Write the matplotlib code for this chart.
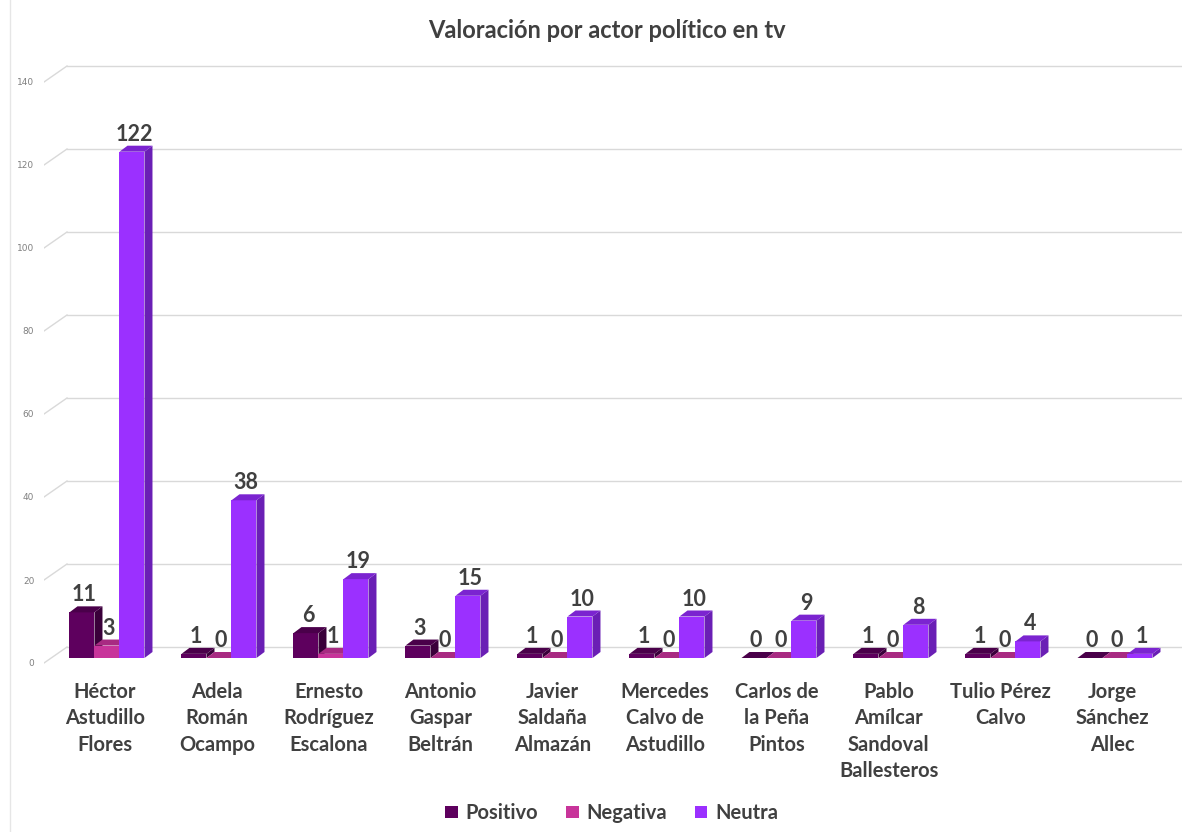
import matplotlib.pyplot as plt
from matplotlib.patches import Polygon, Rectangle, Patch
from matplotlib.lines import Line2D

# Datos
actores = ["Héctor\nAstudillo\nFlores", "Adela\nRomán\nOcampo", "Ernesto\nRodríguez\nEscalona",
           "Antonio\nGaspar\nBeltrán", "Javier\nSaldaña\nAlmazán", "Mercedes\nCalvo de\nAstudillo",
           "Carlos de\nla Peña\nPintos", "Pablo\nAmílcar\nSandoval\nBallesteros", "Tulio Pérez\nCalvo",
           "Jorge\nSánchez\nAllec"]
positivo = [11, 1, 6, 3, 1, 1, 0, 1, 1, 0]
negativa = [3, 0, 1, 0, 0, 0, 0, 0, 0, 0]
neutra = [122, 38, 19, 15, 10, 10, 9, 8, 4, 1]
series = ["Positivo", "Negativa", "Neutra"]
yticks = [0, 20, 40, 60, 80, 100, 120, 140]

# colores: frente, lado, arriba
colores = [("#5e005e", "#3a003a", "#4a004a"),
           ("#c8349a", "#8e2270", "#a82a82"),
           ("#9b30ff", "#6a1fb5", "#7b24d0")]
texto = "#404040"

W, H = 1187, 832
fig = plt.figure(figsize=(W / 100, H / 100), dpi=100)

# escala en pixeles
px_x = 112.0      # pixeles por categoria
px_y = 4.15       # pixeles por unidad
x0_px = 107       # centro de la primera categoria
y0_px = 663       # valor 0 en el plano frontal
left_px, right_px, top_px, bot_px = 44, 1182, 50, 700

ax = fig.add_axes([left_px / W, (H - bot_px) / H, (right_px - left_px) / W, (bot_px - top_px) / H])
ax.set_xlim((left_px - x0_px) / px_x, (right_px - x0_px) / px_x)
ax.set_ylim(-(bot_px - y0_px) / px_y, (y0_px - top_px) / px_y)

def dx(p):
    return p / px_x

def dy(p):
    return p / px_y

# pared del fondo
wx, wy = dx(23), dy(16)
xl = ax.get_xlim()
for t in yticks:
    ax.plot([xl[0], xl[0] + wx], [t, t + wy], color="#d9d9d9", lw=1, zorder=1)
    ax.plot([xl[0] + wx, xl[1]], [t + wy, t + wy], color="#d9d9d9", lw=1, zorder=1)

# barras 3D
w = 25 / px_x
bx, by = dx(8), dy(6)
oy = dy(5)
offs = [-0.335, -0.335 + w, -0.335 + 2 * w]
datos = [positivo, negativa, neutra]
for i in range(len(actores)):
    for k in range(3):
        v = datos[k][i]
        x0 = i + offs[k]
        fc, sc, tc = colores[k]
        z = 3 + k * 0.1
        ax.add_patch(Rectangle((x0, oy), w, v, facecolor=fc, edgecolor="none", zorder=z))
        ax.add_patch(Polygon([(x0 + w, oy), (x0 + w, v + oy), (x0 + w + bx, v + oy + by), (x0 + w + bx, oy + by)],
                             closed=True, facecolor=sc, edgecolor="none", zorder=z))
        ax.add_patch(Polygon([(x0, v + oy), (x0 + w, v + oy), (x0 + w + bx, v + oy + by), (x0 + bx, v + oy + by)],
                             closed=True, facecolor=tc, edgecolor="none", zorder=z))
        ax.text(x0 + w / 2 + bx / 4, v + oy + by + dy(1), str(v), ha="center", va="bottom",
                fontsize=15.5, fontweight="bold", color=texto, family="Lato", zorder=6)

# etiquetas de categoria
for i, a in enumerate(actores):
    ax.text(i - 0.02, -4.6, a, ha="center", va="top", fontsize=14.5, fontweight="bold",
            color=texto, family="Lato", linespacing=1.4, clip_on=False)

ax.set_yticks(yticks)
ax.set_yticklabels([str(t) for t in yticks], fontsize=6.5, color="#808080")
ax.tick_params(axis="y", length=0, pad=7)
ax.set_xticks([])
for s in ax.spines.values():
    s.set_visible(False)
ax.patch.set_alpha(0)

fig.text(607 / W, 1 - 30 / H, "Valoración por actor político en tv", ha="center", va="center",
         fontsize=17, fontweight="bold", color=texto, family="Lato")

fig.add_artist(Line2D([10 / W, 10 / W], [0, 1], color="#e6e6e6", lw=1))

handles = [Patch(facecolor=colores[k][0], label=series[k]) for k in range(3)]
fig.legend(handles=handles, loc="center", bbox_to_anchor=(612 / W, 1 - 813 / H), ncol=3, frameon=False,
           prop={"family": "Lato", "weight": "bold", "size": 14.5}, labelcolor=texto,
           handlelength=0.6, handleheight=0.6, handletextpad=0.4, columnspacing=1.4)

fig.savefig("out.png", dpi=100)
